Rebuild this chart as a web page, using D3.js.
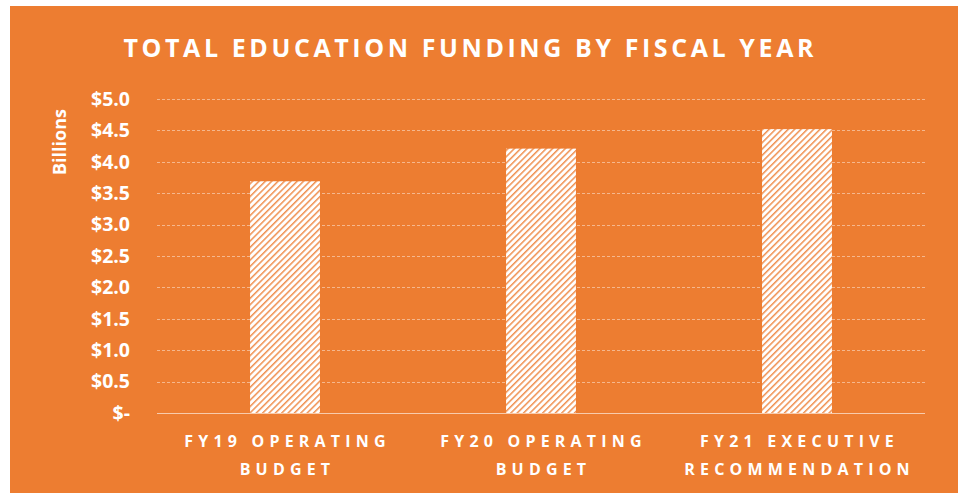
<!DOCTYPE html>
<html>
<head>
<meta charset="utf-8">
<script src="https://cdn.jsdelivr.net/npm/d3@7"></script>
<style>
  body { margin: 0; background: #ffffff; }
  text { font-family: "Open Sans", "Noto Sans", sans-serif; font-weight: bold; fill: #ffffff; }
</style>
</head>
<body>
<svg id="chart" width="958" height="493"></svg>
<script>
// chart data
var categories = ["FY19 OPERATING|BUDGET", "FY20 OPERATING|BUDGET", "FY21 EXECUTIVE|RECOMMENDATION"];
var values = [3.69, 4.21, 4.52];
var y_ticks = [0, 0.5, 1.0, 1.5, 2.0, 2.5, 3.0, 3.5, 4.0, 4.5, 5.0];

var svg = d3.select("#chart"),
    orange = "#ED7D31",
    margin = {left: 157, right: 33, top: 99, bottom: 80},
    width = 958,
    height = 493;

svg.append("rect")
    .attr("x", 10).attr("y", 6)
    .attr("width", width - 10).attr("height", height - 6)
    .attr("fill", orange);

// upward diagonal hatch like excel
var pat = svg.append("defs").append("pattern")
    .attr("id", "hatch")
    .attr("patternUnits", "userSpaceOnUse")
    .attr("width", 4.5).attr("height", 4.5)
    .attr("patternTransform", "rotate(45)");
pat.append("rect").attr("width", 4.5).attr("height", 4.5).attr("fill", "#ffffff");
pat.append("rect").attr("x", 0).attr("width", 1.5).attr("height", 4.5).attr("fill", orange).attr("opacity", 0.85);

var x = d3.scaleBand()
    .domain(categories)
    .range([margin.left, width - margin.right])
    .paddingInner(0.727)
    .paddingOuter(0.3635);

var y = d3.scaleLinear()
    .domain([0, 5])
    .range([height - margin.bottom, margin.top]);

// gridlines
svg.append("g")
    .selectAll("line")
    .data(y_ticks.filter(function(d) { return d > 0; }))
    .enter().append("line")
    .attr("x1", margin.left).attr("x2", width - margin.right)
    .attr("y1", function(d) { return Math.round(y(d)) + 0.5; })
    .attr("y2", function(d) { return Math.round(y(d)) + 0.5; })
    .attr("stroke", "#ffffff")
    .attr("stroke-opacity", 0.45)
    .attr("stroke-dasharray", "3,2");

// bars
svg.append("g")
    .selectAll("rect")
    .data(values)
    .enter().append("rect")
    .attr("x", function(d, i) { return x(categories[i]); })
    .attr("width", x.bandwidth())
    .attr("y", function(d) { return y(d); })
    .attr("height", function(d) { return y(0) - y(d); })
    .attr("fill", "url(#hatch)");

// baseline
svg.append("line")
    .attr("x1", margin.left).attr("x2", width - margin.right)
    .attr("y1", Math.round(y(0)) + 0.5).attr("y2", Math.round(y(0)) + 0.5)
    .attr("stroke", "#ffffff")
    .attr("stroke-opacity", 0.6);

// y axis
var yAxis = d3.axisLeft(y)
    .tickValues(y_ticks)
    .tickSize(0)
    .tickPadding(27)
    .tickFormat(function(d) { return d == 0 ? "$-" : "$" + d3.format(".1f")(d); });

var yg = svg.append("g")
    .attr("transform", "translate(" + margin.left + ",0)")
    .call(yAxis);
yg.select(".domain").remove();
yg.selectAll("text")
    .attr("fill", "#ffffff")
    .style("font-size", "19.5px")
    .style("font-family", "'Open Sans', sans-serif")
    .style("font-weight", "bold");

// x labels
var xl = svg.append("g")
    .selectAll("text")
    .data(categories)
    .enter().append("text")
    .attr("text-anchor", "middle")
    .attr("x", function(d) { return x(d) + x.bandwidth() / 2; })
    .attr("y", 447)
    .style("font-size", "16px")
    .style("letter-spacing", "5.2px");
xl.each(function(d) {
    var parts = d.split("|"), t = d3.select(this);
    parts.forEach(function(p, i) {
        t.append("tspan")
            .attr("x", x(d) + x.bandwidth() / 2 + 2.5)
            .attr("dy", i == 0 ? 0 : 28)
            .text(p);
    });
});

// axis title
svg.append("text")
    .attr("transform", "translate(66,142) rotate(-90)")
    .attr("text-anchor", "middle")
    .style("font-size", "18px")
    .text("Billions");

// chart title
svg.append("text")
    .attr("x", 470)
    .attr("y", 57)
    .attr("text-anchor", "middle")
    .attr("textLength", 693)
    .style("font-size", "25px")
    .style("letter-spacing", "3px")
    .text("TOTAL EDUCATION FUNDING BY FISCAL YEAR");
</script>
</body>
</html>
